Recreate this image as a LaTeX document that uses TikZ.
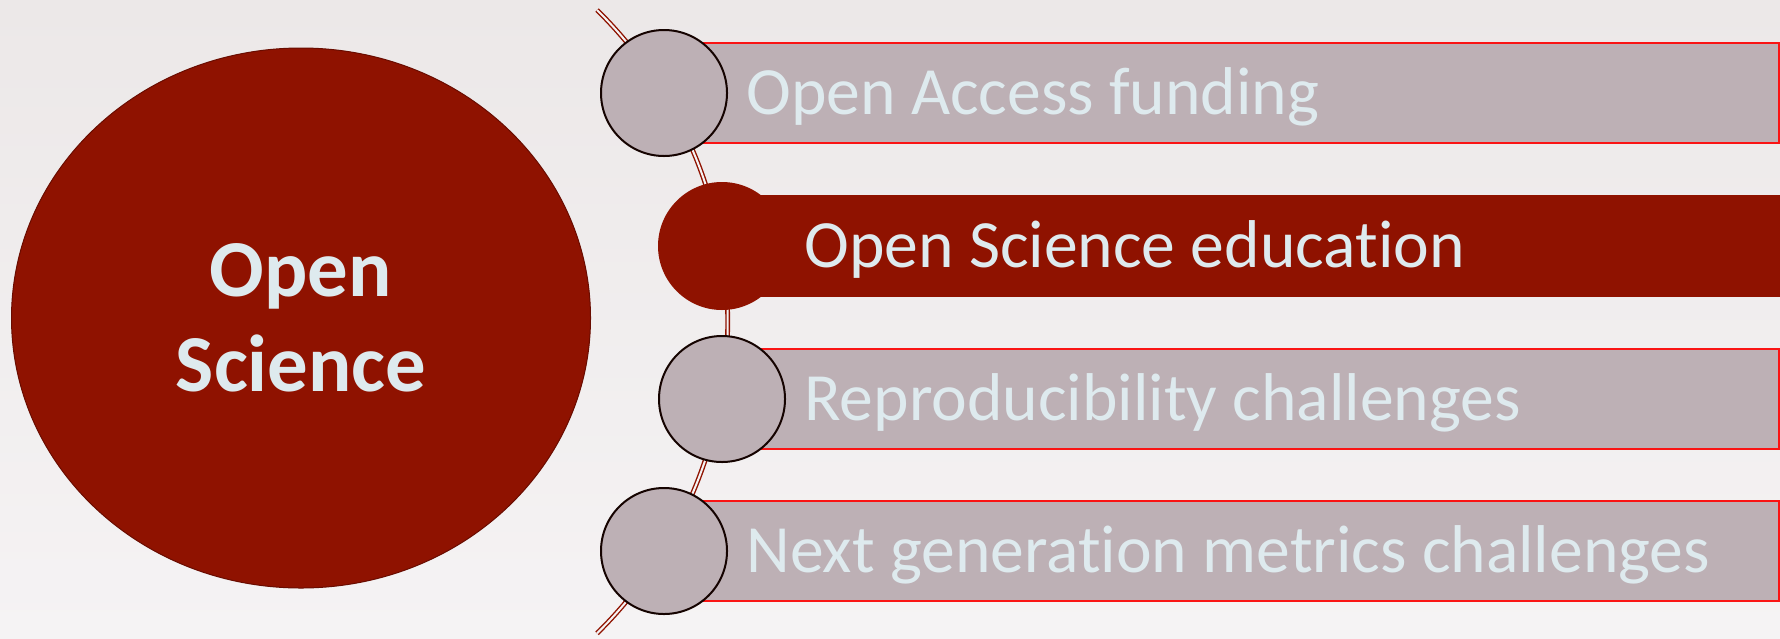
\documentclass[tikz,border=0pt]{standalone}
\usepackage{fontspec}
\setmainfont{Carlito}[RawFeature={-liga}]
\usepackage{tikz}
\usetikzlibrary{calc}
\usetikzlibrary{positioning}
\usetikzlibrary{shapes.geometric}

\definecolor{osred}{RGB}{143,18,0}
\definecolor{osredline}{RGB}{105,12,0}
\definecolor{osgrey}{RGB}{189,176,181}
\definecolor{ostext}{RGB}{222,234,238}
\definecolor{osframe}{RGB}{250,20,20}
\definecolor{bgtop}{RGB}{236,232,232}
\definecolor{bgbottom}{RGB}{245,243,244}

\tikzset{
  hub/.style={ellipse, fill=osred, draw=osredline, line width=0.5pt, minimum width=289.5pt, minimum height=270pt, inner sep=0pt, align=center, text=ostext, font=\bfseries\fontsize{40.4}{47.5}\selectfont},
  bead/.style={circle, fill=osgrey, draw=black!85!osred, line width=1pt, minimum size=63pt, inner sep=0pt},
  beadactive/.style={bead, fill=osred, draw=osred},
  itembar/.style={rectangle, fill=osgrey, draw=osframe, line width=1pt, minimum height=50pt, inner sep=0pt, anchor=west},
  itembaractive/.style={itembar, fill=osred, draw=osred},
  itemtext/.style={text=ostext, inner sep=0pt, text height=21.6pt, text depth=0pt, font=\fontsize{33.8}{40}\selectfont},
  arcline/.style={draw=osred, line width=0.7pt, double=bgbottom, double distance=1pt}
}

\begin{document}
\begin{tikzpicture}[x=0.5pt,y=0.5pt,yscale=-1,xscale=1]
  \useasboundingbox (0,0) rectangle (1780,638);
  %Shape: Background
  \shade [top color=bgtop, bottom color=bgbottom] (0,0) rectangle (1780,638);

  %Shape: Ellipse
  \node [hub] (os) at (301,318) {Open\\Science};

  %Shape: Arc
  \draw [arcline] (597,10) arc [start angle=-45.5, end angle=45.5, radius=437];

  %Shape: Bars
  \node [itembar, minimum width=557pt] (b1) at (664,93) {};
  \node [itembaractive, minimum width=528pt] (b2) at (722,246) {};
  \node [itembar, minimum width=528pt] (b3) at (722,399) {};
  \node [itembar, minimum width=557pt] (b4) at (664,551) {};

  %Shape: Circles
  \node [bead] (c1) at (b1.west) {};
  \node [beadactive] (c2) at (b2.west) {};
  \node [bead] (c3) at (b3.west) {};
  \node [bead] (c4) at (b4.west) {};

  % Text Node
  \node [itemtext, right=9pt of c1.east] (t1) {Open Access funding};
  % Text Node
  \node [itemtext, right=9pt of c2.east] (t2) {Open Science education};
  % Text Node
  \node [itemtext, right=9pt of c3.east] (t3) {Reproducibility challenges};
  % Text Node
  \node [itemtext, right=9pt of c4.east] (t4) {Next generation metrics challenges};
\end{tikzpicture}
\end{document}
